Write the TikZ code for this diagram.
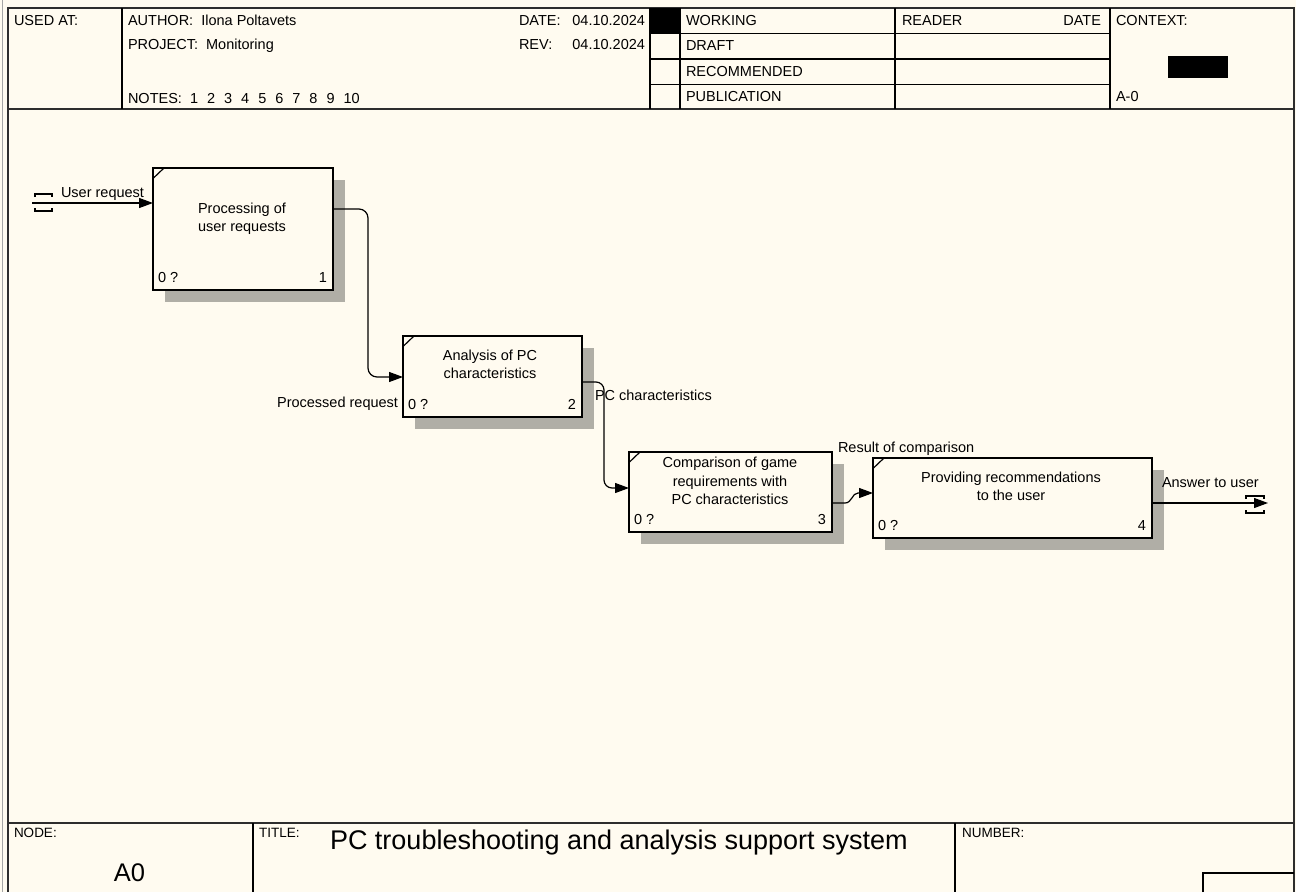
\documentclass[tikz,border=0pt]{standalone}
\usepackage{fontspec}
\setmainfont{Liberation Sans}
\usetikzlibrary{arrows.meta,shadows,calc}
\definecolor{paper}{RGB}{255,251,240}
\definecolor{framegray}{RGB}{45,45,45}
\definecolor{shadowgray}{RGB}{176,174,166}
\definecolor{edgegray}{RGB}{165,165,165}
\newcommand{\gapn}{\hspace{9pt}}

\begin{document}
\begin{tikzpicture}[x=1pt,y=-1pt,
  every node/.style={inner sep=0pt, outer sep=0pt, font=\fontsize{14.5}{18.5}\selectfont},
  hdr/.style={anchor=base west},
  hdrR/.style={anchor=base east},
  small/.style={anchor=base west, font=\fontsize{13.5}{16}\selectfont},
  frame/.style={draw=framegray, line width=1.6pt},
  rule/.style={draw=black, line width=1.1pt},
  activity/.style={draw=black, line width=2pt, fill=paper, rectangle,
    drop shadow={shadow xshift=11.5pt, shadow yshift=-11.5pt, fill=shadowgray, opacity=1}},
  boxtext/.style={align=center, anchor=north},
  flow/.style={draw=black, line width=1.2pt, -{Triangle[length=14pt,width=10pt]}},
  tunnel/.style={draw=black, line width=1.3pt},
  lbl/.style={anchor=base west}
]
% sheet
\fill[paper] (0,0) rectangle (1296,892);
\useasboundingbox (0,0) rectangle (1296,892);
\draw[edgegray, line width=1pt] (2,0) -- (2,892);
\draw[frame] (8,892) -- (8,8) -- (1294,8) -- (1294,892);
\draw[frame, line width=2pt] (8,109) -- (1294,109);
\draw[frame, line width=2pt] (8,823) -- (1294,823);

% header grid
\draw[rule] (122,8) -- (122,109);
\draw[rule] (650,8) -- (650,109);
\draw[rule] (680,8) -- (680,109);
\draw[rule] (895,8) -- (895,109);
\draw[rule] (1110,8) -- (1110,109);
\draw[rule] (650,33.5) -- (1110,33.5);
\draw[rule] (650,59) -- (1110,59);
\draw[rule] (650,84.5) -- (1110,84.5);
\fill[black] (650,8) rectangle (680,33.5);
\fill[black] (1168,56) rectangle (1228,78);

% header texts
\node[hdr] (usedat) at (14,25) {USED AT:};
\node[hdr] (author) at (128,25.5) {AUTHOR:\ \ Ilona Poltavets};
\node[hdr] (project) at (128,49.5) {PROJECT:\ \ Monitoring};
\node[hdr] (notes) at (128,103) {NOTES:\ \ 1\gapn2\gapn3\gapn4\gapn5\gapn6\gapn7\gapn8\gapn9\gapn10};
\node[hdr] (datelbl) at (519,25) {DATE:};
\node[hdrR] (dateval) at (645,25) {04.10.2024};
\node[hdr] (revlbl) at (519,49.5) {REV:};
\node[hdrR] (revval) at (645,49.5) {04.10.2024};
\node[hdr] (working) at (686,25) {WORKING};
\node[hdr] (draft) at (686,50.5) {DRAFT};
\node[hdr] (recommended) at (686,76) {RECOMMENDED};
\node[hdr] (publication) at (686,101) {PUBLICATION};
\node[hdr] (reader) at (902,25) {READER};
\node[hdrR] (readerdate) at (1101,25) {DATE};
\node[hdr] (context) at (1116,25) {CONTEXT:};
\node[hdr] (ctxnode) at (1116,101) {A-0};

% footer
\draw[rule] (253,823) -- (253,892);
\draw[rule] (955,823) -- (955,892);
\draw[rule] (1203,892) -- (1203,873) -- (1294,873);
\node[small] (nodelbl) at (14,837) {NODE:};
\node[small] (titlelbl) at (259,837) {TITLE:};
\node[small] (numberlbl) at (962,837) {NUMBER:};
\node[anchor=base west, font=\fontsize{27}{32}\selectfont] (title) at (330,849)
  {PC troubleshooting and analysis support system};
\node[anchor=base, font=\fontsize{25.5}{30}\selectfont] (nodeid) at (129.5,881) {A0};

% activities
\node[activity, minimum width=180pt, minimum height=122pt] (b1) at (243,229) {};
\node[activity, minimum width=179pt, minimum height=81pt] (b2) at (492.5,376.5) {};
\node[activity, minimum width=203pt, minimum height=80pt] (b3) at (730.5,492) {};
\node[activity, minimum width=279pt, minimum height=80pt] (b4) at (1012.5,498) {};
\foreach \b in {b1,b2,b3,b4}
  \draw[line width=1.2pt] ($(\b.north west)+(0,10.5)$) -- ++(11,-10.5);

\node[boxtext] (t1) at (242,202.5) {Processing of\\user requests};
\node[boxtext] (t2) at (490,349.5) {Analysis of PC\\characteristics};
\node[boxtext] (t3) at (730,457) {Comparison of game\\requirements with\\PC characteristics};
\node[boxtext] (t4) at (1011,471.5) {Providing recommendations\\to the user};

\foreach \b/\n in {b1/1,b2/2,b3/3,b4/4}{
  \node[anchor=base west] (\b cost) at ($(\b.south west)+(5,-8)$) {0 ?};
  \node[anchor=base east] (\b num) at ($(\b.south east)+(-6,-8)$) {\n};
}

% arrows
\coordinate (in1) at (32,203);
\draw[flow] (in1) -- (b1.west |- in1);
\draw[tunnel] (35,197) -- (35,194) -- (52,194) -- (52,197)
              (35,208) -- (35,211) -- (52,211) -- (52,208);
\node[lbl] (l1) at (61,197) {User request};

\draw[flow, rounded corners=9pt] ($(b1.north east)+(0,41)$) -- ++(35,0)
  |- ($(b2.north west)+(0,41)$);
\node[anchor=base east] (l2) at (398,407.5) {Processed request};

\draw[flow, rounded corners=8pt] ($(b2.north east)+(0,46)$) -- ++(22,0)
  |- ($(b3.north west)+(0,36)$);
\node[lbl] (l3) at (595,400) {PC characteristics};

\draw[flow] ($(b3.north east)+(0,51)$) -- ++(13,0)
  .. controls +(7,0) and +(-6,0) .. ++(13,-10) -- ($(b4.north west)+(0,35)$);
\node[lbl] (l4) at (838,452) {Result of comparison};

\coordinate (out4) at (1268,503);
\draw[flow] (b4.east |- out4) -- (out4);
\draw[tunnel] (1246,499) -- (1246,496) -- (1264,496) -- (1264,499)
              (1246,510) -- (1246,513) -- (1264,513) -- (1264,510);
\node[lbl] (l5) at (1162,487.5) {Answer to user};
\end{tikzpicture}
\end{document}
